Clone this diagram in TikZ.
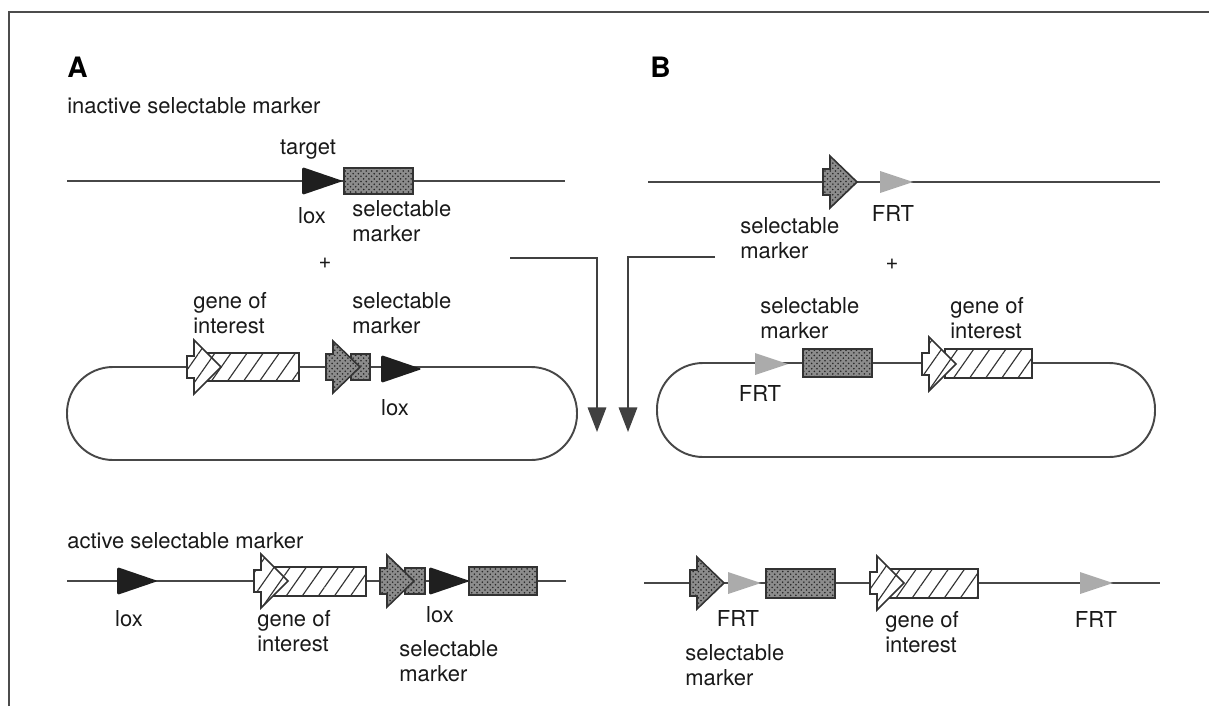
\documentclass[tikz,border=0pt]{standalone}
\usepackage{fontspec}
\setmainfont{TeX Gyre Heros}
\usetikzlibrary{arrows.meta,patterns,patterns.meta}

\begin{document}
\begin{tikzpicture}[x=0.02cm,y=-0.02cm,
    frameline/.style={line width=1.2pt,draw=black!70},
    dnaline/.style={line width=1.1pt,draw=black!72},
    bent/.style={line width=1.1pt,draw=black!75,-{Triangle[length=14pt,width=10.5pt]}},
    plasmid/.style={line width=1.1pt,draw=black!72,rounded corners=0.92cm},
    genebox/.style={draw=black!80,line width=0.9pt,preaction={fill=white},
        pattern={Lines[angle=55,distance=7.5pt,line width=0.65pt]},pattern color=black!80},
    markerbox/.style={draw=black!80,line width=0.9pt,preaction={fill=black!45},
        pattern=crosshatch dots,pattern color=black!85},
    loxfill/.style={fill=black!88,rounded corners=1pt},
    frtfill/.style={fill=black!33},
    lbl/.style={font=\fontsize{12.5}{14.2}\selectfont,text=black!90,inner sep=0pt,align=left},
    panel/.style={font=\fontsize{16}{19}\selectfont\bfseries,inner sep=0pt},
    loxsite/.pic={\fill[loxfill] (0,-14) -- (41,0) -- (0,14) -- cycle;},
    frtsite/.pic={\fill[frtfill] (0,-11) -- (33,0) -- (0,11) -- cycle;},
    genearrow/.pic={\draw[genebox] (0,-11) -- (7,-11) -- (7,-27) -- (34,0) -- (7,27) -- (7,11) -- (0,11) -- cycle;},
    markerarrow/.pic={\draw[markerbox] (0,-13) -- (7,-13) -- (7,-26) -- (34,0) -- (7,26) -- (7,13) -- (0,13) -- cycle;}]
    \useasboundingbox (0,0) rectangle (1209,706);
    \draw[frameline] (9,706) -- (9,12) -- (1209,12);

    \node[panel,anchor=base west] (labA) at (67,77) {A};
    \node[panel,anchor=base west] (labB) at (650,77) {B};
    \node[lbl,anchor=base west] (inactive) at (67,113) {inactive selectable marker};

    \draw[dnaline] (67,181) -- (565,181);
    \pic at (302,181) {loxsite};
    \draw[markerbox] (344,168) rectangle (413,194);
    \node[lbl,anchor=base] (targetA) at (308,154) {target};
    \node[lbl,anchor=base] (loxA1) at (312,223) {lox};
    \node[lbl,anchor=base west] (smA1) at (352,241) {selectable\\marker};
    \node[lbl,anchor=base] (plusA) at (325,268) {+};

    \draw[plasmid] (67,367) rectangle (577,460);
    \draw[genebox] (200,353) rectangle (299,381);
    \pic at (187,367) {genearrow};
    \draw[markerbox] (351,354) rectangle (370,380);
    \pic at (326,367) {markerarrow};
    \pic at (381,369) {loxsite};
    \node[lbl,anchor=base west] (goiA2) at (193,333) {gene of\\interest};
    \node[lbl,anchor=base west] (smA2) at (352,333) {selectable\\marker};
    \node[lbl,anchor=base] (loxA2) at (395,415) {lox};

    \coordinate (fromA) at (510,258);
    \coordinate (toA) at (597,432);
    \draw[bent] (fromA) -| (toA);
    \coordinate (fromB) at (715,257);
    \coordinate (toB) at (628,432);
    \draw[bent] (fromB) -| (toB);

    \draw[dnaline] (648,182) -- (1160,182);
    \pic at (823,182) {markerarrow};
    \pic at (880,182) {frtsite};
    \node[lbl,anchor=base west] (smB1) at (740,258) {selectable\\marker};
    \node[lbl,anchor=base] (frtB1) at (893,221) {FRT};
    \node[lbl,anchor=base] (plusB) at (892,269) {+};

    \draw[plasmid] (657,363) rectangle (1155,457);
    \pic at (755,364) {frtsite};
    \draw[markerbox] (803,349) rectangle (872,377);
    \draw[genebox] (945,349) rectangle (1032,378);
    \pic at (922,364) {genearrow};
    \node[lbl,anchor=base west] (smB2) at (760,338) {selectable\\marker};
    \node[lbl,anchor=base west] (goiB2) at (950,338) {gene of\\interest};
    \node[lbl,anchor=base] (frtB2) at (760,401) {FRT};

    \node[lbl,anchor=base west] (active) at (67,548) {active selectable marker};
    \draw[dnaline] (67,581) -- (566,581);
    \pic at (117,581) {loxsite};
    \draw[genebox] (270,567) rectangle (366,596);
    \pic at (254,581) {genearrow};
    \draw[markerbox] (405,568) rectangle (425,594);
    \pic at (380,581) {markerarrow};
    \pic at (429,581) {loxsite};
    \draw[markerbox] (469,567) rectangle (537,595);
    \node[lbl,anchor=base] (loxA3) at (129,626) {lox};
    \node[lbl,anchor=base west] (goiA3) at (257,651) {gene of\\interest};
    \node[lbl,anchor=base] (loxA4) at (440,622) {lox};
    \node[lbl,anchor=base west] (smA3) at (399,681) {selectable\\marker};

    \draw[dnaline] (644,583) -- (1160,583);
    \pic at (690,583) {markerarrow};
    \pic at (728,583) {frtsite};
    \draw[markerbox] (766,569) rectangle (835,598);
    \draw[genebox] (885,569) rectangle (978,598);
    \pic at (870,583) {genearrow};
    \pic at (1080,583) {frtsite};
    \node[lbl,anchor=base] (frtB3) at (738,626) {FRT};
    \node[lbl,anchor=base west] (smB3) at (685,685) {selectable\\marker};
    \node[lbl,anchor=base west] (goiB3) at (885,652) {gene of\\interest};
    \node[lbl,anchor=base] (frtB4) at (1096,627) {FRT};
\end{tikzpicture}
\end{document}
